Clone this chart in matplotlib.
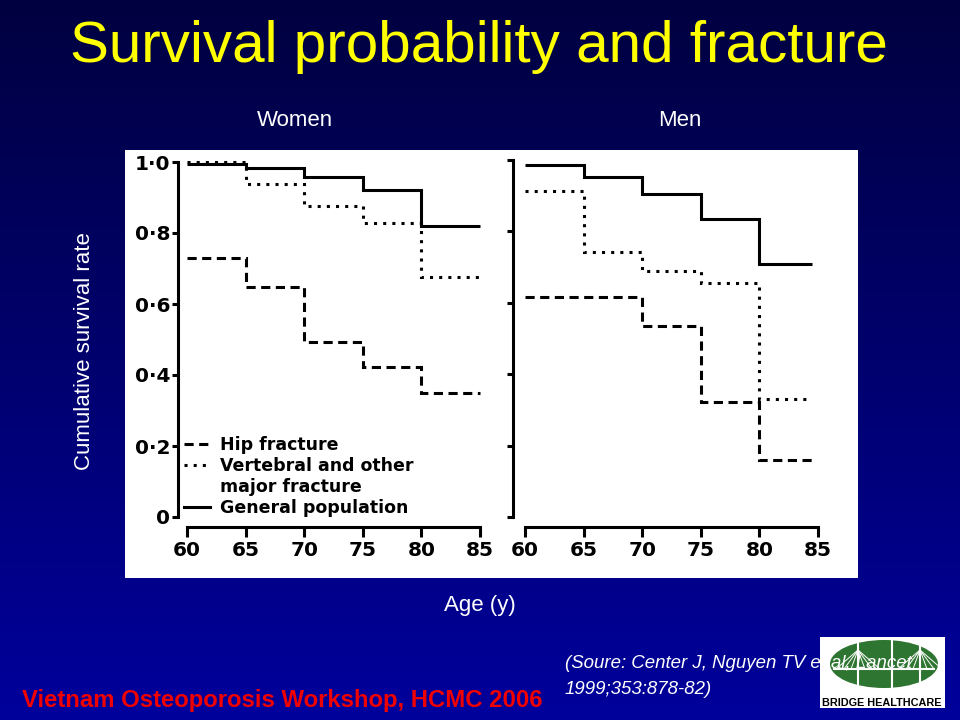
import numpy as np
import matplotlib
matplotlib.use("Agg")
import matplotlib.pyplot as plt
from matplotlib.patches import Rectangle, Ellipse
from matplotlib.lines import Line2D

# ---------------- data ----------------
ages_women = [60, 65, 70, 75, 80, 85]
women_hip = [0.730, 0.648, 0.493, 0.423, 0.349]
women_vertebral = [1.000, 0.938, 0.876, 0.828, 0.676]
women_general = [0.995, 0.983, 0.958, 0.921, 0.820]

ages_men = [60, 65, 70, 75, 80, 84.5]
men_hip = [0.616, 0.616, 0.535, 0.322, 0.160]
men_vertebral = [0.913, 0.742, 0.689, 0.655, 0.331]
men_general = [0.986, 0.952, 0.905, 0.835, 0.709]

x_ticks = [60, 65, 70, 75, 80, 85]
y_ticks = [0, 0.2, 0.4, 0.6, 0.8, 1.0]
y_ticklabels = ["0", "0·2", "0·4", "0·6", "0·8", "1·0"]
legend_labels = ["Hip fracture", "Vertebral and other", "major fracture", "General population"]

W, H = 960, 720
fig = plt.figure(figsize=(9.6, 7.2), dpi=100)

# ---------------- slide background ----------------
bg = fig.add_axes([0, 0, 1, 1])
bg.set_xlim(0, W)
bg.set_ylim(H, 0)
bg.axis("off")
t = np.linspace(0, 1, 300)[:, None]
top = np.array([0, 0, 0x40]) / 255
bot = np.array([0, 0, 0x9c]) / 255
grad = (top[None, None, :] * (1 - t[:, :, None]) + bot[None, None, :] * t[:, :, None])
bg.imshow(grad, aspect="auto", extent=[0, W, H, 0], zorder=0)

# white picture area
bg.add_patch(Rectangle((125, 150), 733, 428, facecolor="white", edgecolor="none", zorder=1))

sans = ["Liberation Sans", "DejaVu Sans"]
bg.text(479, 47, "Survival probability and fracture", color="#ffff00", fontsize=42,
        family=sans, ha="center", va="center", zorder=3)
bg.text(295, 121, "Women", color="white", fontsize=16, family=sans, ha="center", va="center", zorder=3)
bg.text(680, 121, "Men", color="white", fontsize=16, family=sans, ha="center", va="center", zorder=3)
bg.text(85, 351, "Cumulative survival rate", color="white", fontsize=16, family=sans,
        rotation=90, ha="center", va="center", zorder=3)
bg.text(480, 606, "Age (y)", color="white", fontsize=16, family=sans, ha="center", va="center", zorder=3)
bg.text(22, 700, "Vietnam Osteoporosis Workshop, HCMC 2006", color="#f00000", fontsize=17.2,
        family=sans, fontweight="bold", ha="left", va="center", zorder=3)

# logo
bg.add_patch(Rectangle((820, 637), 125, 71, facecolor="white", edgecolor="none", zorder=2))
bg.add_patch(Ellipse((884, 664), 108, 48, facecolor="#2e7531", edgecolor="none", zorder=2))
for xv in (858, 892, 920):
    bg.plot([xv, xv], [641, 687], color="white", lw=1.5, zorder=2.5)
bg.plot([834, 934], [669, 669], color="white", lw=1.5, zorder=2.5)
for tx in (858, 920):
    for dx in (-22, -14, -7, 7, 14, 22):
        bg.plot([tx, tx + dx], [650, 669], color="white", lw=0.7, zorder=2.5)
bg.text(882, 703, "BRIDGE HEALTHCARE", color="black", fontsize=7.8, fontweight="bold",
        family=sans, ha="center", va="center", zorder=2.6)

bg.text(565, 663, "(Soure: Center J, Nguyen TV et al, Lancet", color="white", fontsize=13.4,
        family=sans, style="italic", ha="left", va="center", zorder=3)
bg.text(565, 689, "1999;353:878-82)", color="white", fontsize=13.4,
        family=sans, style="italic", ha="left", va="center", zorder=3)


def px_axes(x0, x1, ytop, ybot):
    return fig.add_axes([x0 / W, 1 - ybot / H, (x1 - x0) / W, (ybot - ytop) / H])


LW = 2.2
styles = {
    "hip": dict(linestyle=(0, (3.0, 1.8)), color="black", lw=LW),
    "vert": dict(linestyle=(0, (1.0, 2.0)), color="black", lw=LW),
    "gen": dict(linestyle="-", color="black", lw=LW),
}
tickfont = dict(family="DejaVu Sans", weight="bold", size=14.5)


def style_axes(ax, left_off, bottom_off, ylabels):
    ax.set_xlim(60, 85)
    ax.set_ylim(0, 1)
    ax.patch.set_visible(False)
    for s in ("top", "right"):
        ax.spines[s].set_visible(False)
    ax.spines["left"].set_position(("outward", left_off))
    ax.spines["bottom"].set_position(("outward", bottom_off))
    ax.spines["left"].set_bounds(0, 1)
    ax.spines["bottom"].set_bounds(60, 85)
    for s in ("left", "bottom"):
        ax.spines[s].set_linewidth(LW)
    ax.set_xticks(x_ticks)
    ax.set_xticklabels([str(v) for v in x_ticks], fontdict=tickfont)
    ax.set_yticks(y_ticks)
    if ylabels:
        ax.set_yticklabels(y_ticklabels, fontdict=tickfont)
    else:
        ax.set_yticklabels([])
    ax.tick_params(axis="x", direction="out", length=7, width=LW, pad=3)
    ax.tick_params(axis="y", direction="out", length=4.5, width=LW, pad=1)


# ---------------- Women ----------------
axw = px_axes(187, 480, 162, 517)
style_axes(axw, 6.5, 7.2, True)
axw.stairs(women_hip, ages_women, baseline=None, clip_on=False, **styles["hip"])
axw.stairs(women_vertebral, ages_women, baseline=None, clip_on=False, **styles["vert"])
axw.stairs(women_general, ages_women, baseline=None, clip_on=False, **styles["gen"])

handles = [Line2D([], [], **styles["hip"]), Line2D([], [], **styles["vert"]),
           Line2D([], [], linestyle="none"), Line2D([], [], **styles["gen"])]
leg = axw.legend(handles, legend_labels, loc="lower left", bbox_to_anchor=(-0.01, 0.0),
                 frameon=False, borderpad=0, borderaxespad=0, handlelength=1.5,
                 handletextpad=0.55, labelspacing=0.18,
                 prop=dict(family="DejaVu Sans", weight="bold", size=12.5))

# ---------------- Men ----------------
axm = px_axes(525, 818, 160, 517)
style_axes(axm, 8.6, 7.2, False)
axm.stairs(men_hip, ages_men, baseline=None, clip_on=False, **styles["hip"])
axm.stairs(men_vertebral, ages_men, baseline=None, clip_on=False, **styles["vert"])
axm.stairs(men_general, ages_men, baseline=None, clip_on=False, **styles["gen"])

fig.savefig("out.png", dpi=100)
